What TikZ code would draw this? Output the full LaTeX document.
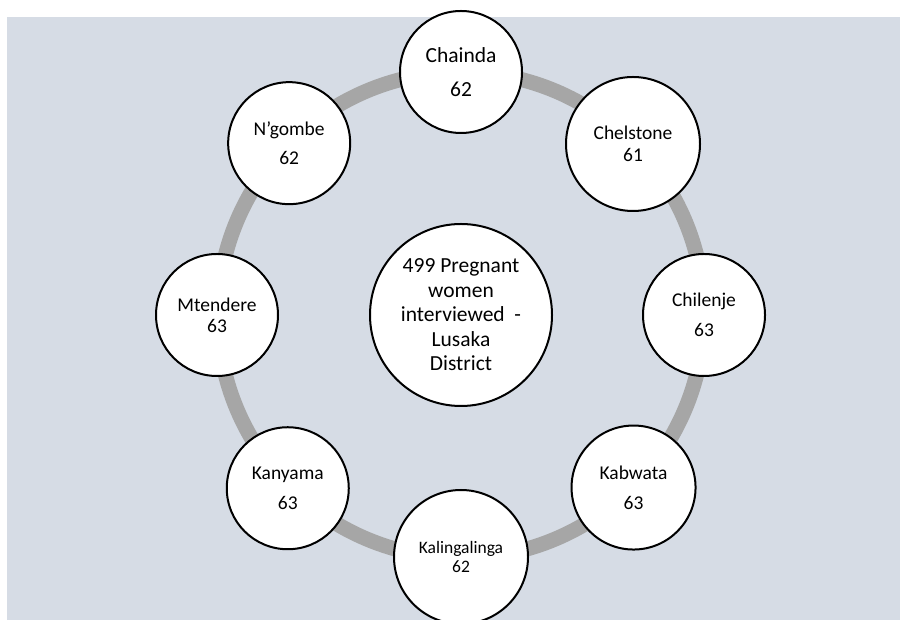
\documentclass[tikz,border=0pt]{standalone}
\usepackage{fontspec}
\setmainfont{Carlito}
\usepackage{xcolor}
\definecolor{ink}{HTML}{000000}
\definecolor{panel}{HTML}{D6DCE5}
\definecolor{ring}{HTML}{A6A6A6}

\begin{document}
\begin{tikzpicture}[
  x=1pt,y=1pt,
  site/.style={circle,draw=ink,fill=white,line width=2pt,inner sep=0pt,
               minimum size=122pt,align=center,text=ink,
               font=\fontsize{19.5}{23.4}\selectfont},
  hub/.style={site,minimum size=182pt,font=\fontsize{21.5}{24.5}\selectfont},
  ringline/.style={draw=ring,line width=15pt}
]

% 1. Panel and grey ring.
\clip (0,0) rectangle (901,620);
\fill[panel] (7,0) rectangle (900,603);
\coordinate (mid) at (461,305);
\draw[ringline] (mid) circle (243);

% 2. Centre circle.
\node[hub] (total) at (mid) {499 Pregnant\\women\\interviewed~~-\\Lusaka\\District};

% 3. Health centres round the ring.
\node[site,font=\fontsize{21.5}{26}\selectfont]
  (chainda) at ([shift={(90:243)}]mid) {Chainda\\[8pt]62};
\node[site,minimum size=134pt]
  (chelstone) at ([shift={(172,171)}]mid) {Chelstone\\[-1.5pt]61};
\node[site] (chilenje) at ([shift={(0:243)}]mid) {Chilenje\\[6.5pt]63};
\node[site,minimum size=124pt]
  (kabwata) at ([shift={(-45:244)}]mid) {Kabwata\\[6.5pt]63};
\node[site,minimum size=134pt,font=\fontsize{17.5}{21}\selectfont]
  (kalingalinga) at ([shift={(-90:242)}]mid) {Kalingalinga\\[-2pt]62};
\node[site] (kanyama) at ([shift={(-135:245)}]mid) {Kanyama\\[6.5pt]63};
\node[site] (mtendere) at ([shift={(180:244)}]mid) {Mtendere\\[-2.5pt]63};
\node[site] (ngombe) at ([shift={(135:243)}]mid) {N’gombe\\[6.5pt]62};

\end{tikzpicture}
\end{document}
